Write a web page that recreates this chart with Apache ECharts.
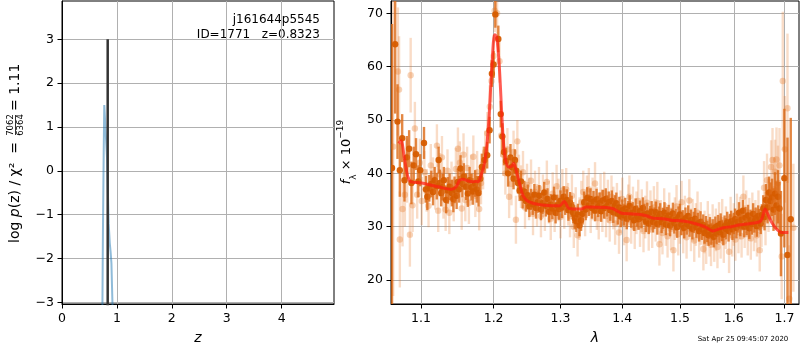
<!DOCTYPE html>
<html>
<head>
<meta charset="utf-8">
<script src="https://cdn.jsdelivr.net/npm/echarts@6/dist/echarts.min.js"></script>
<style>
  html, body { margin: 0; padding: 0; background: #fff; }
  #chart { width: 800px; height: 350px; }
</style>
</head>
<body>
<div id="chart"></div>
<script>
// ---- left panel: log p(z)
const zTicks = [0, 1, 2, 3, 4]
const pzTicks = [-3, -2, -1, 0, 1, 2, 3]
const zBest = 0.8323
const pzLineZ = [0.735, 0.745, 0.76, 0.77, 0.79, 0.82, 0.85, 0.87, 0.885, 0.9, 0.91, 0.925]
const pzLineVal = [-3.3, -1.5, 0.5, 1.5, 1.5, 0.3, -1.2, -1.65, -1.85, -2.1, -2.6, -3.3]

// ---- right panel: spectrum
const waveTicks = [1.1, 1.2, 1.3, 1.4, 1.5, 1.6, 1.7]
const fluxTicks = [20, 30, 40, 50, 60, 70]

const darkWave = [
  1.0625,1.0665,1.0695,1.0725,1.0755,1.0785,1.0815,1.0845,1.0875,1.0905,
  1.0935,1.0965,1.0990,1.1040,1.1065,1.1084,1.1110,1.1137,1.1160,1.1181,
  1.1210,1.1235,1.1252,1.1270,1.1290,1.1306,1.1337,1.1360,1.1383,1.1414,
  1.1435,1.1451,1.1480,1.1497,1.1515,1.1534,1.1560,1.1580,1.1612,1.1635,
  1.1659,1.1685,1.1706,1.1738,1.1760,1.1785,1.1810,1.1832,1.1870,1.1908,
  1.1942,1.1975,1.2000,1.2025,1.2068,1.2103,1.2127,1.2150,1.2180,1.2210,
  1.2245,1.2265,1.2290,1.2310,1.2330,1.2355,1.2380,1.2400,1.2425,1.2450,
  1.2475,1.2500,1.2525,1.2550,1.2575,1.2600,1.2625,1.2650,1.2675,1.2700,
  1.2725,1.2750,1.2775,1.2800,1.2825,1.2850,1.2875,1.2900,1.2925,1.2950,
  1.2975,1.3000,1.3025,1.3050,1.3075,1.3100,1.3125,1.3150,1.3175,1.3200,
  1.3225,1.3250,1.3275,1.3300,1.3325,1.3350,1.3375,1.3400,1.3425,1.3450,
  1.3475,1.3500,1.3525,1.3550,1.3575,1.3600,1.3625,1.3650,1.3675,1.3700,
  1.3725,1.3750,1.3775,1.3800,1.3825,1.3850,1.3875,1.3900,1.3925,1.3950,
  1.3975,1.4000,1.4025,1.4050,1.4075,1.4100,1.4125,1.4150,1.4175,1.4200,
  1.4225,1.4250,1.4275,1.4300,1.4325,1.4350,1.4375,1.4400,1.4425,1.4450,
  1.4475,1.4500,1.4525,1.4550,1.4575,1.4600,1.4625,1.4650,1.4675,1.4700,
  1.4725,1.4750,1.4775,1.4800,1.4825,1.4850,1.4875,1.4900,1.4925,1.4950,
  1.4975,1.5000,1.5025,1.5050,1.5075,1.5100,1.5125,1.5150,1.5175,1.5200,
  1.5225,1.5250,1.5275,1.5300,1.5325,1.5350,1.5375,1.5400,1.5425,1.5450,
  1.5475,1.5500,1.5525,1.5550,1.5575,1.5600,1.5625,1.5650,1.5675,1.5700,
  1.5725,1.5750,1.5775,1.5800,1.5825,1.5850,1.5875,1.5900,1.5925,1.5950,
  1.5975,1.6000,1.6025,1.6050,1.6075,1.6100,1.6125,1.6150,1.6175,1.6200,
  1.6225,1.6250,1.6275,1.6300,1.6325,1.6350,1.6375,1.6400,1.6425,1.6450,
  1.6475,1.6500,1.6525,1.6550,1.6575,1.6600,1.6630,1.6660,1.6690,1.6720,
  1.6750,1.6780,1.6810,1.6840,1.6870,1.6900,1.6930,1.6999,1.7063,1.7130
]
const darkFlux = [
  41.0,64.2,49.7,40.6,46.6,38.7,43.0,44.6,38.2,41.5,
  43.6,38.5,40.6,45.7,37.0,35.6,37.2,38.0,36.5,38.7,
  37.6,42.5,38.2,36.3,37.4,38.7,35.0,36.8,37.5,36.3,
  35.2,36.9,35.8,38.4,37.0,40.9,38.0,39.4,37.5,36.2,
  38.7,37.4,36.6,38.1,37.0,36.3,39.0,41.2,42.5,43.4,
  48.1,58.7,60.4,69.8,65.2,51.1,46.9,44.0,42.3,40.0,
  43.0,41.2,39.0,42.5,40.5,38.2,36.8,38.5,35.4,36.6,
  34.8,35.9,33.8,35.1,34.2,36.0,33.5,34.6,35.8,33.2,
  34.4,36.4,33.9,35.2,32.8,34.1,33.4,35.5,32.6,34.0,
  33.3,34.8,33.6,35.6,34.2,35.0,33.1,34.5,33.8,32.6,
  31.6,31.0,32.3,30.2,31.2,32.4,34.6,33.2,35.4,34.0,
  35.2,33.5,34.7,33.0,35.1,33.8,34.4,32.9,34.9,33.5,
  35.2,33.9,34.6,33.1,34.8,32.7,33.9,34.4,32.4,33.6,
  31.9,33.1,32.2,33.4,31.5,32.8,33.9,31.8,32.6,31.2,
  33.3,32.0,31.4,32.9,31.7,33.5,32.3,31.0,32.5,30.6,
  31.9,32.8,30.9,31.6,32.7,30.5,31.8,32.4,30.8,31.5,
  32.6,30.4,31.7,32.1,30.2,31.4,32.5,30.7,31.3,29.9,
  31.8,32.3,30.4,31.1,29.8,31.6,30.5,32.0,30.1,31.2,
  29.6,30.8,31.5,29.9,30.6,29.2,30.9,29.5,30.3,28.8,
  30.0,29.1,28.4,29.8,28.6,29.4,28.1,29.9,28.7,30.2,
  29.0,30.5,29.3,28.5,30.1,29.6,30.8,29.2,30.4,31.0,
  29.5,30.6,31.4,29.8,30.9,32.6,30.2,31.3,33.0,30.0,
  31.7,30.4,32.1,29.7,31.2,30.5,32.4,30.9,31.6,30.1,
  32.0,31.3,30.6,32.2,33.4,31.8,35.0,33.6,36.4,34.8,
  35.5,33.2,36.2,34.0,35.6,33.4,28.7,39.1,24.7,31.4
]
const darkErr = [
  27,13,7,5,4.5,4,4,3.5,4,3.5,
  3,3,3,3,2.5,2.5,2.5,2.5,2.5,2.5,
  2.5,2.5,2.5,2.5,2.5,2.5,2.5,2.5,2.5,2.5,
  2.5,2.5,2.5,2.5,2.5,2.5,2.5,2.5,2.5,2.5,
  2.5,2.5,2.5,2.5,2.5,2.5,2.5,2.5,2.5,2.5,
  2.5,2.5,2.5,2.5,2.5,2.5,2.5,2.5,2.5,2.5,
  2.5,2,2,2,2,2,2,2,2,2,
  2,2,2,2,2,2,2,2,2,2,
  2,2,2,2,2,2,2,2,2,2,
  2,2,2,2,2,2,2,2,2,2,
  2,2,2,2,2,2,2,2,2,2,
  2,2,2,2,2,2,2,2,2,2,
  2,2,2,2,2,2,2,2,2,2,
  2,2,2,2,2,2,2,2,2,2,
  2,2,2,2,2,2,2,2,2,2,
  2,2,2,2,2,2,2,2,2,2,
  2,2,2,2,2,2,2,2,2,2,
  2,2,2,2,2,2,2,2,2,2,
  2,2,2,2,2,2,2,2,2,2,
  2,2,2,2,2,2,2,2,2,2,
  2,2,2,2,2,2,2,2,2,2,
  2,2,2,2,2,2,2,2,2,2,
  2,2,2,2,2,2,2,2,2,2,
  2,2,2,2,2.5,2.5,3,3,3,3.5,
  3.5,4,4,4.5,5,5,8,13,22,19
]

const lightWave = [
  1.0640,1.0700,1.0715,1.0725,1.0760,1.0790,1.0820,1.0855,1.0865,1.0890,
  1.0920,1.0950,1.0985,1.1010,1.1045,1.1075,1.1100,1.1130,1.1160,1.1190,
  1.1212,1.1229,1.1255,1.1280,1.1300,1.1330,1.1355,1.1380,1.1410,1.1440,
  1.1470,1.1498,1.1525,1.1550,1.1575,1.1600,1.1625,1.1650,1.1680,1.1712,
  1.1740,1.1765,1.1794,1.1820,1.1850,1.1880,1.1910,1.1945,1.1970,1.2000,
  1.2015,1.2050,1.2085,1.2110,1.2140,1.2170,1.2200,1.2225,1.2260,1.2290,
  1.2325,1.2346,1.2370,1.2400,1.2430,1.2460,1.2490,1.2520,1.2550,1.2580,
  1.2610,1.2640,1.2670,1.2700,1.2730,1.2760,1.2790,1.2820,1.2850,1.2880,
  1.2910,1.2940,1.2970,1.3000,1.3030,1.3060,1.3090,1.3120,1.3150,1.3180,
  1.3210,1.3240,1.3270,1.3300,1.3330,1.3360,1.3390,1.3420,1.3450,1.3480,
  1.3510,1.3550,1.3580,1.3610,1.3640,1.3670,1.3700,1.3730,1.3760,1.3790,
  1.3820,1.3850,1.3880,1.3910,1.3945,1.3970,1.4000,1.4030,1.4073,1.4100,
  1.4120,1.4150,1.4180,1.4210,1.4240,1.4270,1.4300,1.4330,1.4360,1.4390,
  1.4420,1.4450,1.4480,1.4510,1.4540,1.4570,1.4600,1.4636,1.4660,1.4690,
  1.4720,1.4750,1.4780,1.4810,1.4840,1.4884,1.4910,1.4940,1.4970,1.5000,
  1.5030,1.5060,1.5090,1.5120,1.5170,1.5200,1.5230,1.5260,1.5290,1.5320,
  1.5350,1.5380,1.5428,1.5450,1.5480,1.5510,1.5540,1.5570,1.5600,1.5630,
  1.5660,1.5690,1.5720,1.5750,1.5780,1.5810,1.5850,1.5910,1.5940,1.5970,
  1.6000,1.6030,1.6060,1.6090,1.6120,1.6150,1.6185,1.6210,1.6240,1.6270,
  1.6300,1.6330,1.6360,1.6390,1.6420,1.6450,1.6480,1.6505,1.6540,1.6591,
  1.6620,1.6650,1.6680,1.6731,1.6760,1.6790,1.6810,1.6840,1.6870,1.6900,
  1.6945,1.6967,1.7010,1.7063,1.7100,1.7184
]
const lightFlux = [
  45.0,59.1,55.7,27.6,33.3,36.0,40.5,28.5,58.4,34.0,
  48.4,36.0,42.0,34.8,40.2,36.8,33.9,41.5,39.0,37.2,
  45.2,33.0,39.8,43.0,35.5,33.2,40.5,32.6,38.2,35.0,
  40.8,44.6,42.0,33.4,43.5,35.0,41.0,34.5,39.5,43.1,
  35.8,40.2,33.3,38.2,41.0,44.0,47.5,52.5,57.3,62.0,
  70.5,70.0,61.0,47.1,43.5,40.0,44.5,35.6,38.0,44.0,
  31.3,46.0,39.5,37.5,40.2,33.6,37.8,35.2,38.6,32.4,
  36.5,34.0,37.2,32.0,35.8,33.2,38.4,34.6,31.5,36.2,
  33.0,37.6,35.0,31.8,36.8,33.6,37.0,34.2,32.0,35.8,
  30.0,33.4,28.4,31.5,34.6,36.5,32.2,35.6,37.0,32.8,
  35.2,38.1,33.4,31.6,35.9,33.0,36.3,32.0,34.8,31.2,
  35.6,33.5,30.6,34.2,28.9,32.8,35.2,30.5,27.5,33.9,
  35.6,30.8,33.5,29.8,32.6,34.8,30.2,33.0,29.2,31.8,
  34.5,29.5,32.8,30.0,33.6,31.2,34.4,26.7,31.0,28.8,
  33.2,30.4,28.2,32.4,29.6,25.6,31.5,33.8,28.6,30.8,
  34.6,29.0,31.8,28.0,34.9,29.4,31.2,27.4,30.4,32.6,
  28.2,30.6,25.8,29.0,27.0,30.8,28.4,26.6,30.2,27.4,
  29.4,26.2,30.6,28.0,31.2,27.2,29.8,25.3,31.6,28.4,
  30.4,27.6,32.2,29.0,31.6,28.2,35.6,30.0,32.8,28.6,
  31.4,27.8,32.4,29.4,31.0,28.4,32.8,25.6,30.2,37.3,
  31.5,38.7,34.0,41.2,42.5,37.0,40.3,42.6,38.2,41.5,
  24.4,57.3,44.5,52.2,16.5,29.8
]
const lightErr = [
  28,12,10,9,7,6,6,6,7,5,
  5,4.5,4.5,4.5,4,4,4,4,4,4,
  4,4,4,4,4,4,4,4,4,4,
  4,4,4,4,4,4,4,4,4,4,
  4,4,4,4,4,4,4,4,4,4,
  4,4,4,4,4,4,4,4,4,4,
  4.5,4,4,4,4,4,4,4,4,4,
  4,4,4,4,4,4,4,4,4,4,
  4,4,4,4,4,4,4,4,4,4,
  4,4,4,4,4,4,4,4,4,4,
  4,4,4,4,4,4,4,4,4,4,
  4,4,4,4,4,4,4,4,4,4,
  4,4,4,4,4,4,4,4,4,4,
  4,4,4,4,4,4,4,4,4,4,
  4,4,4,4,4,4,4,4,4,4,
  4,4,4,4,4,4,4,4,4,4,
  4,4,4,4,4,4,4,4,4,4,
  4,4,4,4,4,4,4,4,4,4,
  4,4,4,4,4,4,4,4,4,4,
  4,4,4,4,4,4,4,4,4,5,
  5,5,5,5,6,6,6,6,7,7,
  8,13,10,14,10,12
]

const modelWave = [
  1.071,1.074,1.0787,1.0828,1.0869,1.1004,1.1226,1.1406,1.1474,1.1520,
  1.1565,1.1635,1.1706,1.1752,1.178,1.183,1.187,1.191,1.194,1.1975,
  1.2015,1.2045,1.2082,1.2117,1.2140,1.2165,1.2213,1.2262,1.2290,1.2340,
  1.2390,1.2439,1.2512,1.2684,1.2983,1.3059,1.3137,1.333,1.3404,1.3732,
  1.3843,1.3987,1.412,1.430,1.442,1.452,1.470,1.485,1.500,1.515,
  1.530,1.545,1.561,1.570,1.580,1.595,1.610,1.625,1.640,1.650,
  1.655,1.661,1.666,1.672,1.680,1.688,1.695,1.708
]
const modelFlux = [
  45.6,46.1,42.5,39.4,38.4,38.2,37.5,37.0,37.5,38.7,
  38.9,38.6,38.4,38.5,38.4,40.0,41.9,46.2,51.9,60.0,
  66.0,65.5,60.0,51.3,46.2,43.1,41.2,41.3,41.9,40.0,
  37.5,35.6,34.7,34.1,33.9,34.7,33.4,33.3,33.7,33.6,
  33.4,32.5,32.4,32.3,32.0,31.6,31.5,31.2,31.1,30.9,
  30.5,30.0,29.2,29.5,29.8,30.0,30.3,30.5,30.7,30.9,
  31.5,33.3,32.5,31.2,30.0,29.2,28.9,28.9
]

const FONT = 'DejaVu Sans'
const toSpec = (w, f, e) => w.map((v, i) => [Math.log(v), f[i], e[i]])

let errorBars = (fill, stroke) => (params, api) => {
    let x = api.value(0), y = api.value(1), e = api.value(2)
    let c = api.coord([x, y])
    let lo = api.coord([x, y - e])
    let hi = api.coord([x, y + e])
    return {
        type: 'group',
        children: [
            { type: 'line', shape: { x1: c[0], y1: lo[1], x2: c[0], y2: hi[1] }, style: { stroke: stroke, lineWidth: 2.4 } },
            { type: 'circle', shape: { cx: c[0], cy: c[1], r: 3.2 }, style: { fill: fill } }
        ]
    }
}

let axisCommon = (ticks, fmt) => ({
    type: 'value',
    axisLine: { show: true, onZero: false, lineStyle: { color: '#000', width: 1 } },
    axisTick: { show: true, inside: false, length: 4.5, customValues: ticks, lineStyle: { color: '#000', width: 1 } },
    axisLabel: { customValues: ticks, formatter: fmt, color: '#000', fontFamily: FONT, fontSize: 12.5 },
    splitLine: { show: true, lineStyle: { color: '#b0b0b0', width: 1 } }
})

let minusFmt = v => (v < 0 ? '\u2212' + Math.abs(v) : String(v))

let chart = echarts.init(document.getElementById('chart'), null, { renderer: 'canvas' })

chart.setOption({
    animation: false,
    backgroundColor: '#fff',
    grid: [
        { left: 62, top: 1, width: 272, height: 303, show: true, borderColor: '#000', borderWidth: 1 },
        { left: 391, top: 1, width: 408, height: 303, show: true, borderColor: '#000', borderWidth: 1 }
    ],
    xAxis: [
        Object.assign(axisCommon(zTicks, minusFmt), {
            gridIndex: 0, min: 0, max: 4.954,
            name: 'z', nameLocation: 'middle', nameGap: 27,
            nameTextStyle: { fontFamily: FONT, fontSize: 14, fontStyle: 'italic', color: '#000' }
        }),
        Object.assign(axisCommon(waveTicks.map(Math.log), v => Math.exp(v).toFixed(1)), {
            gridIndex: 1, min: Math.log(1.0612), max: Math.log(1.7300),
            name: 'λ', nameLocation: 'middle', nameGap: 27,
            nameTextStyle: { fontFamily: FONT, fontSize: 14, fontStyle: 'italic', color: '#000' }
        })
    ],
    yAxis: [
        Object.assign(axisCommon(pzTicks, minusFmt), { gridIndex: 0, min: -3.039, max: 3.874 }),
        Object.assign(axisCommon(fluxTicks, minusFmt), { gridIndex: 1, min: 15.5, max: 72.31 })
    ],
    series: [
        {
            type: 'line', xAxisIndex: 0, yAxisIndex: 0, symbol: 'none',
            data: pzLineZ.map((z, i) => [z, pzLineVal[i]]),
            lineStyle: { color: 'rgba(31,119,180,0.5)', width: 2 }
        },
        {
            type: 'line', xAxisIndex: 0, yAxisIndex: 0, symbol: 'none',
            data: [[zBest, -3.2], [zBest, 3]],
            lineStyle: { color: '#333', width: 2.5 }
        },
        {
            type: 'custom', xAxisIndex: 1, yAxisIndex: 1, clip: true,
            data: toSpec(lightWave, lightFlux, lightErr),
            renderItem: errorBars('rgba(230,120,40,0.33)', 'rgba(230,120,40,0.26)')
        },
        {
            type: 'custom', xAxisIndex: 1, yAxisIndex: 1, clip: true,
            data: toSpec(darkWave, darkFlux, darkErr),
            renderItem: errorBars('rgba(214,92,0,0.95)', 'rgba(220,105,20,0.8)')
        },
        {
            type: 'line', xAxisIndex: 1, yAxisIndex: 1, symbol: 'none', smooth: 0.3,
            data: modelWave.map((w, i) => [Math.log(w), modelFlux[i]]),
            lineStyle: { color: 'rgba(255,30,20,0.72)', width: 3 }
        }
    ],
    graphic: [
        { type: 'text', x: 320, y: 20, style: { text: 'j161644p5545', fontFamily: FONT, fontSize: 12, fill: '#000', align: 'right', verticalAlign: 'middle' } },
        { type: 'text', x: 320, y: 35, style: { text: 'ID=1771   z=0.8323', fontFamily: FONT, fontSize: 12, fill: '#000', align: 'right', verticalAlign: 'middle' } },
        {
            type: 'group', x: 15, y: 243, rotation: Math.PI / 2,
            children: [
                {
                    type: 'text', x: 0, y: 0,
                    style: {
                        text: '{n|log }{i|p}{n|(z) / χ²  =}',
                        align: 'left', verticalAlign: 'middle',
                        rich: {
                            n: { fontFamily: FONT, fontSize: 14, fill: '#000' },
                            i: { fontFamily: FONT, fontSize: 14, fontStyle: 'italic', fill: '#000' }
                        }
                    }
                },
                { type: 'text', x: 118, y: -4.5, style: { text: '7062', fontFamily: FONT, fontSize: 8.5, fill: '#000', align: 'center', verticalAlign: 'middle' } },
                { type: 'line', shape: { x1: 108, y1: 0.5, x2: 128, y2: 0.5 }, style: { stroke: '#000', lineWidth: 0.8 } },
                { type: 'text', x: 118, y: 5.5, style: { text: '6364', fontFamily: FONT, fontSize: 8.5, fill: '#000', align: 'center', verticalAlign: 'middle' } },
                { type: 'text', x: 132, y: 0, style: { text: '= 1.11', fontFamily: FONT, fontSize: 14, fill: '#000', align: 'left', verticalAlign: 'middle' } }
            ]
        },
        {
            type: 'text', x: 347, y: 152, rotation: Math.PI / 2,
            style: {
                text: '{i|f}{s|λ}{n| × 10}{p|−19}',
                align: 'center', verticalAlign: 'middle',
                rich: {
                    i: { fontFamily: FONT, fontSize: 13, fontStyle: 'italic', fill: '#000', lineHeight: 22, verticalAlign: 'middle' },
                    s: { fontFamily: FONT, fontSize: 9, fill: '#000', verticalAlign: 'bottom' },
                    n: { fontFamily: FONT, fontSize: 13, fill: '#000', verticalAlign: 'middle' },
                    p: { fontFamily: FONT, fontSize: 9, fill: '#000', verticalAlign: 'top' }
                }
            }
        },
        { type: 'text', x: 743, y: 339, style: { text: 'Sat Apr 25 09:45:07 2020', fontFamily: FONT, fontSize: 7, fill: '#000', align: 'center', verticalAlign: 'middle' } }
    ]
})

window.addEventListener('resize', () => chart.resize(), false)
</script>
</body>
</html>
